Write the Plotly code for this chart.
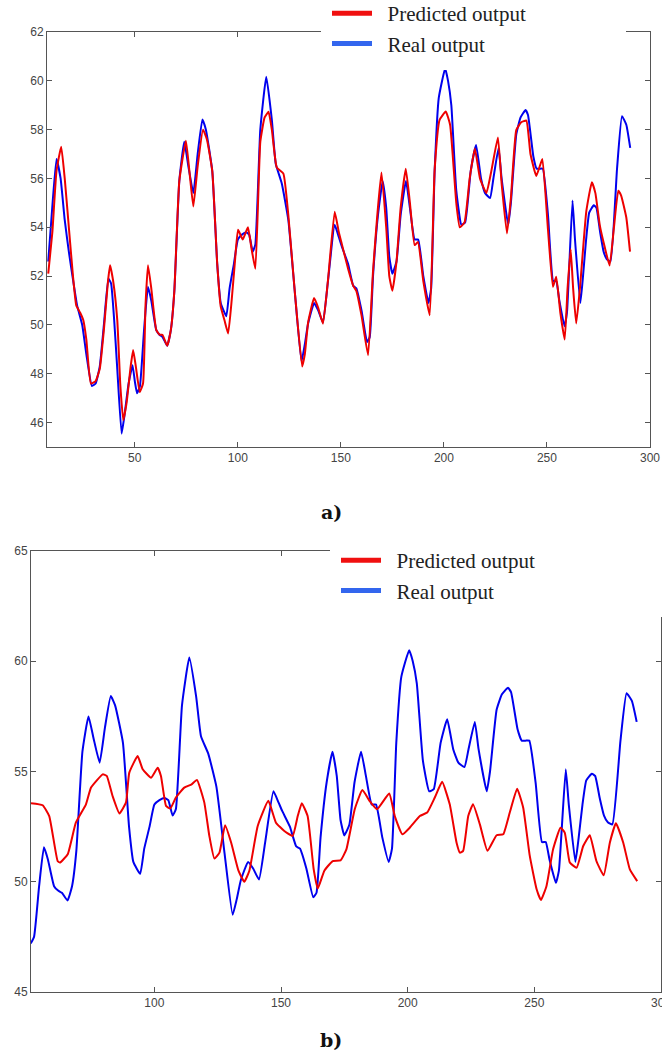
import plotly.graph_objects as go

# ---- Real output (same series in both panels) ----
real_x = [8, 9.5, 12, 14, 16, 18, 20.3, 22, 24.5, 26.5, 29.2, 31, 33, 35, 37.2, 38.5, 40, 41.5, 43.6, 45,
          47, 48.9, 50, 51.1, 52.5, 54.5, 56.4, 58, 60.4, 62, 63.5, 65.7, 67.5, 69.2, 71.6, 74, 76, 78.4,
          80.5, 82.8, 84.5, 87.6, 90, 91.7, 94.4, 96, 98.1, 100, 102, 104, 105.5, 107.2, 108.5, 110.9,
          113.8, 116.5, 118.4, 121.3, 124.5, 127.7, 130.9, 132.5, 134.1, 137, 139, 141.3, 143.75, 147,
          149, 150.5, 153.5, 156, 157.5, 160, 162.7, 164, 165.6, 168, 170.3, 172, 173.5, 175, 177, 179,
          181.6, 183.5, 185.8, 187.5, 190, 192.5, 193.8, 195.5, 197.5, 200.6, 202, 203.6, 206, 208.5,
          210.3, 213, 215.6, 218, 220, 222.4, 224, 226.5, 228, 231.2, 232.5, 235.1, 237.2, 239.6, 240.8,
          243.4, 245, 246.5, 248, 250.5, 253, 254.5, 256, 258.5, 259.7, 262.4, 263.6, 266.2, 267.5, 269,
          270.5, 272.7, 274, 275.8, 277.5, 279, 280.8, 284, 286.4, 288.5, 290.4]
real_y = [52.6, 54.3, 56.8, 56.0, 54.3, 53.0, 51.7, 50.8, 50.0, 48.8, 47.5, 47.6, 48.3, 50.0, 51.9, 51.7,
          50.2, 48.2, 45.55, 46.3, 47.6, 48.35, 47.7, 47.2, 47.5, 49.8, 51.56, 51.0, 49.8, 49.6, 49.5,
          49.15, 49.8, 51.4, 55.9, 57.5, 56.5, 55.4, 57.0, 58.42, 58.0, 56.3, 52.5, 50.9, 50.36, 51.5,
          52.5, 53.5, 53.7, 53.8, 53.7, 53.0, 53.3, 58.0, 60.17, 58.4, 56.6, 55.8, 54.3, 51.3, 48.5, 49.2,
          50.06, 50.9, 50.6, 50.1, 51.8, 54.1, 53.6, 53.2, 52.5, 51.6, 51.5, 50.6, 49.3, 49.5, 52.0, 54.5,
          55.9, 54.8, 52.8, 52.1, 52.6, 54.5, 55.9, 54.8, 53.5, 53.5, 52.0, 50.9, 51.5, 56.3, 59.3, 60.5,
          60.0, 59.0, 55.5, 54.1, 54.2, 56.3, 57.37, 56.0, 55.4, 55.2, 56.0, 57.25, 56.0, 54.1, 55.0, 57.8,
          58.5, 58.8, 58.6, 56.9, 56.4, 56.4, 56.4, 54.5, 51.8, 51.8, 51.0, 49.95, 50.5, 55.1, 53.5, 50.9,
          52.0, 53.5, 54.6, 54.9, 54.8, 53.8, 53.0, 52.7, 52.6, 56.4, 58.55, 58.2, 57.25]

# ---- Predicted output, panel a) ----
preda_x = [8, 10, 12, 14.3, 16, 18, 20, 21.6, 23.5, 25, 26.5, 28.7, 31, 33, 35, 37, 38, 39.5, 41.5, 43,
           44.4, 46, 48, 49.2, 50.5, 52.4, 54, 55.2, 56.4, 58, 60.4, 62, 63.4, 65.7, 67.5, 69.2, 71.6,
           74.8, 76.5, 78.4, 80.5, 83.1, 85, 87.6, 90, 91.7, 93.5, 95.3, 97, 98.5, 100.1, 102.4, 104.9,
           106.5, 108.5, 110.9, 113, 114.9, 116.5, 118.9, 122.1, 124.5, 127.7, 131.2, 132.5, 134.1, 137,
           139, 141.3, 143.75, 147, 149, 150.5, 153.5, 156, 157.5, 160, 163.2, 165.6, 169.7, 172, 173.5,
           175, 177, 179, 181.5, 183.5, 185.8, 187.4, 190, 193.1, 195.5, 197.9, 200.9, 203, 206, 207.7,
           210, 212.5, 215, 217.5, 220.6, 223, 226.2, 228, 230.6, 232.5, 235.1, 237.5, 240, 242, 244.8,
           246.5, 247.8, 250.5, 252.9, 254.5, 256.5, 258.6, 260, 261.5, 262.7, 264.2, 266, 269.1, 271.8,
           273.5, 275.6, 278, 280.4, 282.5, 284.6, 286, 288.5, 290.3]
preda_y = [52.1, 53.8, 56.3, 57.3, 56.0, 54.0, 52.0, 50.8, 50.5, 50.2, 49.4, 47.6, 47.7, 48.2, 49.8, 51.8,
           52.45, 51.8, 50.2, 47.5, 46.1, 46.8, 48.3, 48.97, 48.3, 47.25, 47.6, 50.8, 52.45, 51.5, 49.8,
           49.6, 49.6, 49.15, 49.8, 51.4, 55.9, 57.55, 56.3, 54.85, 56.5, 58.0, 57.6, 56.3, 52.5, 50.75,
           50.2, 49.65, 51.0, 52.5, 53.9, 53.5, 54.0, 53.2, 52.3, 57.5, 58.5, 58.73, 58.0, 56.45, 56.2, 54.5,
           51.3, 48.3, 48.8, 50.1, 51.1, 50.7, 50.05, 51.84, 54.64, 53.8, 53.3, 52.3, 51.6, 51.4, 50.4,
           48.76, 52.2, 56.24, 54.0, 52.0, 51.4, 52.6, 54.8, 56.4, 55.0, 53.27, 53.4, 51.8, 50.4, 56.35,
           58.4, 58.74, 58.2, 55.0, 54.0, 54.2, 56.0, 57.23, 56.0, 55.4, 56.3, 57.68, 55.8, 53.75, 55.2,
           57.98, 58.3, 58.37, 57.0, 56.1, 56.5, 56.8, 53.9, 51.56, 51.97, 50.5, 49.4, 51.5, 53.1, 51.5,
           50.06, 51.5, 54.66, 55.85, 55.4, 54.1, 53.2, 52.43, 54.0, 55.5, 55.3, 54.4, 53.0]

# ---- Predicted output, panel b) ----
predb_x = [51.3, 55.9, 58.5, 61.8, 62.7, 65.8, 69.0, 73.0, 75.0, 79.6, 81.2, 83.5, 86.2, 88.8, 90.1, 93.4,
           95.4, 98.7, 101.3, 102.6, 104.6, 106.3, 108.5, 111.8, 114.7, 116.8, 119.7, 121.7, 123.7, 125.7,
           127.9, 130.3, 133.2, 135.5, 137.5, 140.8, 145.0, 148.0, 151.3, 154.6, 156.6, 158.2, 160.5,
           162.9, 164.5, 167.1, 170.4, 173.5, 175.8, 179.1, 182.1, 185.0, 187.9, 192.7, 194.9, 197.9,
           200.8, 204.8, 207.7, 210.7, 213.6, 216.6, 219.3, 220.6, 221.9, 223.9, 225.8, 228.5, 231.5,
           235.1, 237.7, 240.3, 243.2, 245.6, 248.2, 250.9, 252.6, 254.8, 257.4, 260.3, 262.0, 264.0,
           266.7, 269.3, 271.9, 274.5, 277.4, 279.8, 282.2, 285.1, 287.7, 290.6]
predb_y = [53.56, 53.47, 52.98, 50.94, 50.87, 51.25, 52.68, 53.51, 54.27, 54.87, 54.8, 53.89, 53.1, 53.6,
           54.95, 55.7, 55.1, 54.72, 55.17, 54.8, 53.44, 53.32, 53.82, 54.27, 54.42, 54.62, 53.6, 52.08,
           51.05, 51.32, 52.56, 51.78, 50.5, 50.0, 50.5, 52.53, 53.67, 52.68, 52.3, 52.08, 52.98, 53.56,
           52.98, 50.56, 49.69, 50.5, 50.94, 50.97, 51.47, 53.29, 54.16, 53.66, 53.29, 54.0, 52.98, 52.15,
           52.45, 52.98, 53.14, 53.82, 54.53, 53.51, 51.77, 51.32, 51.4, 52.98, 53.51, 52.6, 51.4, 52.11,
           52.15, 53.14, 54.22, 53.36, 51.17, 49.66, 49.17, 49.81, 51.47, 52.45, 52.23, 50.87, 50.64,
           51.62, 52.11, 50.94, 50.29, 51.77, 52.65, 51.77, 50.56, 50.03]

xticks_a = [50, 100, 150, 200, 250, 300]
yticks_a = [46, 48, 50, 52, 54, 56, 58, 60, 62]
xticks_b = [100, 150, 200, 250, 300]
yticks_b = [45, 50, 55, 60, 65]
legend_names = ["Predicted output", "Real output"]
panel_labels = ["a)", "b)"]

W, H = 662, 1057
RED = "#ee0000"
BLUE = "#0000ee"
PAD = "\u00a0\u00a0"
TAIL_A = ["\u00a0" * 17, "\u00a0" * 23]
TAIL_B = ["\u00a0" * 24, "\u00a0" * 30]

fig = go.Figure()

line_kw = dict(width=2, shape="spline", smoothing=0.4)
fig.add_trace(go.Scatter(x=real_x, y=real_y, mode="lines", line=dict(color=BLUE, **line_kw),
                         xaxis="x", yaxis="y", showlegend=False))
fig.add_trace(go.Scatter(x=preda_x, y=preda_y, mode="lines", line=dict(color=RED, **line_kw),
                         xaxis="x", yaxis="y", showlegend=False))
fig.add_trace(go.Scatter(x=real_x, y=real_y, mode="lines", line=dict(color=BLUE, **line_kw),
                         xaxis="x2", yaxis="y2", showlegend=False))
fig.add_trace(go.Scatter(x=predb_x, y=predb_y, mode="lines", line=dict(color=RED, **line_kw),
                         xaxis="x2", yaxis="y2", showlegend=False))

for lg, xa, ya, tail in [("legend", "x", "y", TAIL_A), ("legend2", "x2", "y2", TAIL_B)]:
    fig.add_trace(go.Scatter(x=[None], y=[None], mode="lines", name=PAD + legend_names[0] + tail[0],
                             line=dict(color="#f01010", width=5), legend=lg, xaxis=xa, yaxis=ya))
    fig.add_trace(go.Scatter(x=[None], y=[None], mode="lines", name=PAD + legend_names[1] + tail[1],
                             line=dict(color="#3366ee", width=5), legend=lg, xaxis=xa, yaxis=ya))

axis_common = dict(showline=True, linecolor="#555555", linewidth=1, mirror="ticks", ticks="inside",
                   ticklen=5, tickcolor="#555555", showgrid=False, zeroline=False, automargin=False,
                   ticklabeloverflow="allow",
                   tickfont=dict(family="Liberation Sans, Arial", size=12, color="#444444"))


def px2x(p):
    return p / W


def px2y(p):
    return 1 - p / H


legend_font = dict(family="Liberation Serif, Times New Roman, serif", size=21, color="#222222")
BW = 6

fig.update_layout(
    width=W, height=H, margin=dict(l=0, r=0, t=0, b=0, autoexpand=False),
    paper_bgcolor="white", plot_bgcolor="white",
    xaxis=dict(domain=[px2x(47), px2x(650)], range=[7.4, 300], tickvals=xticks_a, anchor="y", **axis_common),
    yaxis=dict(domain=[px2y(447), px2y(32)], range=[45, 62], tickvals=yticks_a, anchor="x", **axis_common),
    xaxis2=dict(domain=[px2x(31), px2x(661)], range=[51.3, 300], tickvals=xticks_b, anchor="y2", **axis_common),
    yaxis2=dict(domain=[px2y(992), px2y(551)], range=[45, 65], tickvals=yticks_b, anchor="x2", **axis_common),
    legend=dict(x=px2x(327 - BW), y=1.0065 + BW / H, xanchor="left", yanchor="top", bgcolor="white",
                bordercolor="white", borderwidth=BW, font=legend_font, tracegroupgap=0, itemwidth=40),
    legend2=dict(x=px2x(336 - BW), y=px2y(540 - BW), xanchor="left", yanchor="top", bgcolor="white",
                 bordercolor="white", borderwidth=BW, font=legend_font, tracegroupgap=0, itemwidth=40),
    annotations=[
        dict(text="<b>" + panel_labels[0] + "</b>", x=px2x(331), y=px2y(512), xref="paper", yref="paper",
             xanchor="center", yanchor="middle", showarrow=False,
             font=dict(family="DejaVu Serif, serif", size=19, color="#111111")),
        dict(text="<b>" + panel_labels[1] + "</b>", x=px2x(331), y=px2y(1040), xref="paper", yref="paper",
             xanchor="center", yanchor="middle", showarrow=False,
             font=dict(family="DejaVu Serif, serif", size=19, color="#111111")),
    ],
)

fig.write_html("out.html", config={"displayModeBar": False},
               post_script="document.body.style.margin='0px';")
